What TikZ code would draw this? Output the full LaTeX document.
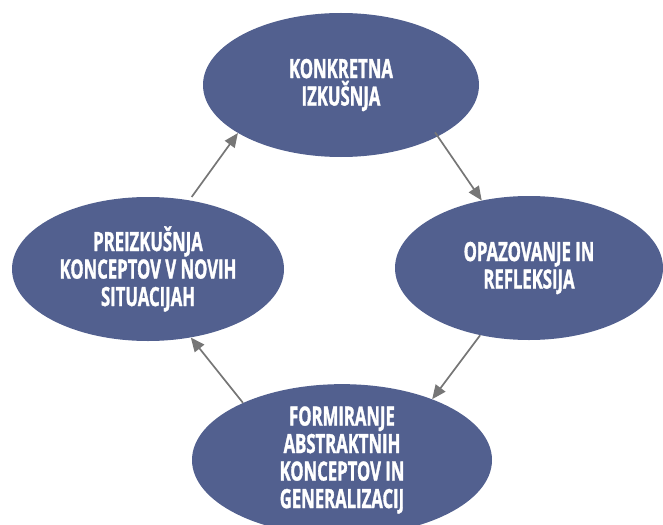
\documentclass[tikz,border=0pt]{standalone}
\usepackage{fontspec}
\setmainfont{Open Sans}[FakeStretch=0.63,BoldFeatures={FakeBold=1.2}]
\usetikzlibrary{shapes.geometric,arrows.meta}
\definecolor{blobblue}{RGB}{82,96,143}
\definecolor{arrowgray}{RGB}{118,118,118}
\tikzset{
  blob/.style={ellipse, fill=blobblue, draw=none, inner xsep=0pt, inner ysep=0pt,
    text=white, align=center, font=\fontsize{26.5}{27.5}\selectfont\bfseries},
  flow/.style={draw=arrowgray, line width=1.7pt, -{Triangle[length=14pt,width=12pt]}}
}
\begin{document}
\begin{tikzpicture}[x=1pt,y=-1pt]
\useasboundingbox (0,0) rectangle (663,524);
\node[blob, minimum width=276pt, minimum height=144pt] (top) at (341,85) {KONKRETNA\\IZKUŠNJA};
\node[blob, minimum width=268pt, minimum height=144pt] (right) at (529,268) {OPAZOVANJE IN\\REFLEKSIJA};
\node[blob, minimum width=300pt, minimum height=144pt] (bottom) at (342,460) {FORMIRANJE\\ABSTRAKTNIH\\KONCEPTOV IN\\GENERALIZACIJ};
\node[blob, minimum width=272pt, minimum height=144pt] (left) at (148,269) {PREIZKUŠNJA\\KONCEPTOV V NOVIH\\SITUACIJAH};
\draw[flow, shorten <=4pt] (left.59) -- (top.205);
\draw[flow, shorten <=-5pt] (top.-28) -- (right.125);
\draw[flow] (right.234) -- (bottom.34);
\draw[flow] (bottom.150) -- (left.-58);
\end{tikzpicture}
\end{document}
